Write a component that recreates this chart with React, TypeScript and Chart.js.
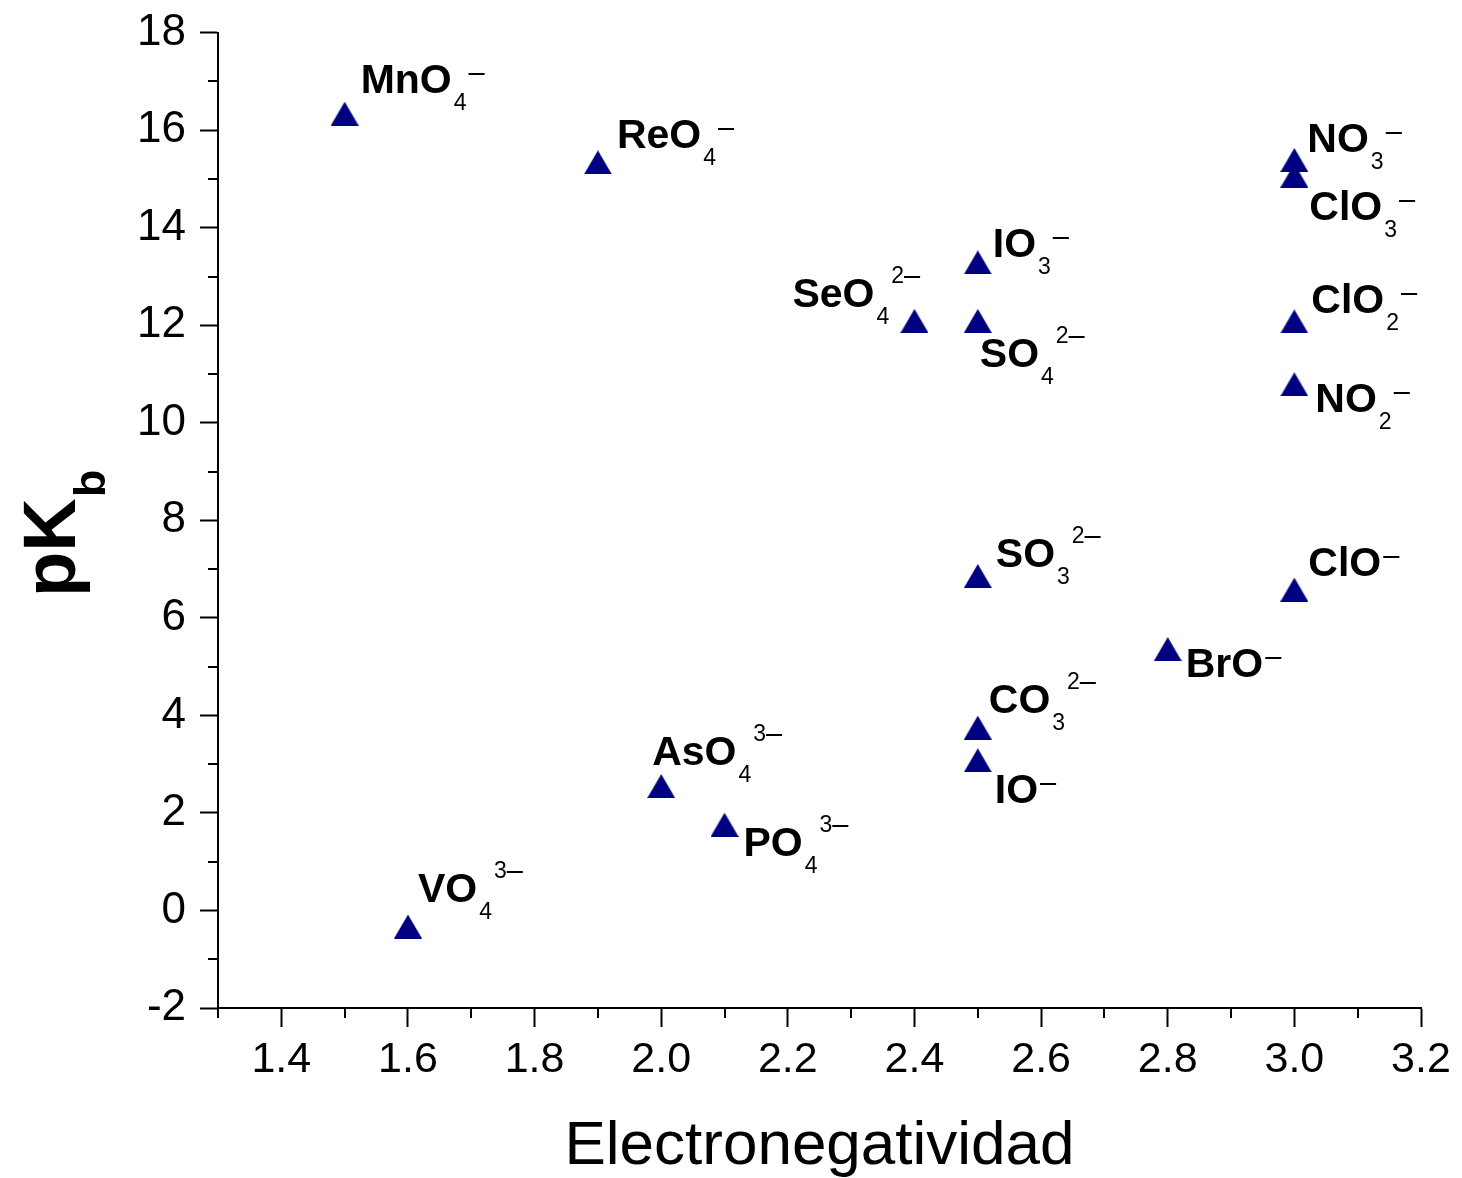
import React, { useEffect, useRef } from 'react';
import { Chart, registerables } from 'chart.js';

Chart.register(...registerables);

// ---- data ----
const ELECTRONEGATIVITY = [1.5, 1.9, 3.0, 3.0, 2.5, 2.4, 2.5, 3.0, 3.0, 2.5, 3.0, 2.8, 2.5, 2.5, 2.0, 2.1, 1.6];
const PKB = [16.34, 15.34, 15.39, 15.07, 13.29, 12.09, 12.09, 12.08, 10.79, 6.86, 6.58, 5.36, 3.75, 3.08, 2.55, 1.76, -0.33];
const ION_BASE = ['MnO', 'ReO', 'NO', 'ClO', 'IO', 'SeO', 'SO', 'ClO', 'NO', 'SO', 'ClO', 'BrO', 'CO', 'IO', 'AsO', 'PO', 'VO'];
const ION_SUB = ['4', '4', '3', '3', '3', '4', '4', '2', '2', '3', '', '', '3', '', '4', '4', '4'];
const ION_CHARGE = ['–', '–', '–', '–', '–', '2–', '2–', '–', '–', '2–', '–', '–', '2–', '–', '3–', '3–', '3–'];
const X_TICKS = [1.4, 1.6, 1.8, 2.0, 2.2, 2.4, 2.6, 2.8, 3.0, 3.2];
const X_MINOR = [1.3, 1.5, 1.7, 1.9, 2.1, 2.3, 2.5, 2.7, 2.9, 3.1];
const Y_TICKS = [-2, 0, 2, 4, 6, 8, 10, 12, 14, 16, 18];
const Y_MINOR = [-1, 1, 3, 5, 7, 9, 11, 13, 15, 17];

// ---- label placement (pixels relative to the marker) ----
const LABEL_OFFSETS = [
  [16, -21], [19, -14], [13, -8], [15, 44], [15, -5], [-122, -13.5], [2, 46.5], [17, -8], [21, 28],
  [18, -8.5], [14, -13.5], [18, 28], [11, -14.5], [17, 43], [-9, -21], [19, 31.5], [10, -24.5],
];

const FONT = '"Liberation Sans", Arial, Helvetica, sans-serif';
const NAVY = '#000080';

function makeTriangle(): HTMLCanvasElement {
  const c = document.createElement('canvas');
  c.width = 28;
  c.height = 24;
  const ctx = c.getContext('2d')!;
  ctx.fillStyle = NAVY;
  ctx.beginPath();
  ctx.moveTo(14, 0);
  ctx.lineTo(28, 24);
  ctx.lineTo(0, 24);
  ctx.closePath();
  ctx.fill();
  return c;
}

const minorTicksPlugin = {
  id: 'minorTicks',
  afterDraw(chart: any) {
    const { ctx, scales } = chart;
    const xs = scales.x;
    const ys = scales.y;
    ctx.save();
    ctx.strokeStyle = '#000';
    ctx.lineWidth = 2;
    ctx.beginPath();
    X_MINOR.forEach((v) => {
      const px = Math.round(xs.getPixelForValue(v));
      ctx.moveTo(px, ys.bottom);
      ctx.lineTo(px, ys.bottom + 10);
    });
    Y_MINOR.forEach((v) => {
      const py = Math.round(ys.getPixelForValue(v));
      ctx.moveTo(xs.left, py);
      ctx.lineTo(xs.left - 10, py);
    });
    ctx.stroke();
    ctx.restore();
  },
};

const yTitlePlugin = {
  id: 'yTitle',
  afterDraw(chart: any) {
    const { ctx } = chart;
    ctx.save();
    ctx.fillStyle = '#000';
    ctx.translate(75, 597);
    ctx.rotate(-Math.PI / 2);
    ctx.textAlign = 'left';
    ctx.textBaseline = 'alphabetic';
    ctx.font = `bold 74px ${FONT}`;
    ctx.fillText('pK', 0, 0);
    const w = ctx.measureText('pK').width;
    ctx.font = `bold 45px ${FONT}`;
    ctx.fillText('b', w + 1, 30);
    ctx.restore();
  },
};

const ionLabelPlugin = {
  id: 'ionLabels',
  afterDatasetsDraw(chart: any) {
    const { ctx } = chart;
    const meta = chart.getDatasetMeta(0);
    ctx.save();
    ctx.fillStyle = '#000';
    ctx.textAlign = 'left';
    ctx.textBaseline = 'alphabetic';
    meta.data.forEach((pt: any, i: number) => {
      const [dx, dy] = LABEL_OFFSETS[i];
      let x = pt.x + dx;
      const y = pt.y + dy;
      ctx.font = `bold 41px ${FONT}`;
      ctx.fillText(ION_BASE[i], x, y);
      x += ctx.measureText(ION_BASE[i]).width + 2;
      ctx.font = `23px ${FONT}`;
      if (ION_SUB[i]) {
        ctx.fillText(ION_SUB[i], x, y + 17);
        x += ctx.measureText(ION_SUB[i]).width + 2;
      }
      const charge = ION_CHARGE[i];
      const digits = charge.slice(0, -1);
      const supY = y + (digits ? -24 : -13);
      if (digits) {
        ctx.font = `23px ${FONT}`;
        ctx.fillText(digits, x, supY);
        x += ctx.measureText(digits).width;
      }
      ctx.font = `29px ${FONT}`;
      ctx.fillText('–', x, supY + 2);
    });
    ctx.restore();
  },
};

export default function App() {
  const ref = useRef<HTMLCanvasElement | null>(null);

  useEffect(() => {
    document.body.style.margin = '0';
    const canvas = ref.current!;
    const tri = makeTriangle();
    const chart = new Chart(canvas, {
      type: 'scatter',
      data: {
        datasets: [
          {
            data: ELECTRONEGATIVITY.map((x, i) => ({ x, y: PKB[i] })),
            pointStyle: tri as any,
            backgroundColor: NAVY,
            borderColor: NAVY,
          },
        ],
      },
      options: {
        responsive: false,
        animation: false,
        devicePixelRatio: 1,
        layout: { padding: { left: 0, right: 41, top: 32, bottom: 0 } },
        plugins: { legend: { display: false }, tooltip: { enabled: false } },
        scales: {
          x: {
            type: 'linear',
            position: 'bottom',
            min: 1.3,
            max: 3.2,
            afterBuildTicks: (s: any) => {
              s.ticks = X_TICKS.map((v) => ({ value: v }));
            },
            afterFit: (s: any) => {
              s.height = 170;
            },
            grid: {
              display: true,
              drawOnChartArea: false,
              drawTicks: true,
              tickLength: 19,
              tickWidth: 2,
              tickColor: '#000',
            },
            border: { display: true, color: '#000', width: 2 },
            ticks: {
              color: '#000',
              font: { family: FONT, size: 43 },
              padding: 7,
              maxRotation: 0,
              autoSkip: false,
              callback: (v: any) => Number(v).toFixed(1),
            },
            title: {
              display: true,
              text: 'Electronegatividad',
              color: '#000',
              font: { family: FONT, size: 62, lineHeight: 1.0 },
              padding: { top: 0, bottom: 0 },
            },
          },
          y: {
            type: 'linear',
            min: -2,
            max: 18,
            afterBuildTicks: (s: any) => {
              s.ticks = Y_TICKS.map((v) => ({ value: v }));
            },
            afterFit: (s: any) => {
              s.width = 218;
            },
            grid: {
              display: true,
              drawOnChartArea: false,
              drawTicks: true,
              tickLength: 18,
              tickWidth: 2,
              tickColor: '#000',
            },
            border: { display: true, color: '#000', width: 2 },
            ticks: {
              color: '#000',
              font: { family: FONT, size: 44, lineHeight: 0.85 },
              padding: 14,
              autoSkip: false,
              callback: (v: any) => String(v),
            },
          },
        },
      } as any,
      plugins: [minorTicksPlugin, yTitlePlugin, ionLabelPlugin],
    });
    return () => chart.destroy();
  }, []);

  return (
    <div style={{ width: 1462, height: 1178, background: '#fff' }}>
      <canvas ref={ref} width={1462} height={1178} style={{ display: 'block' }} />
    </div>
  );
}
